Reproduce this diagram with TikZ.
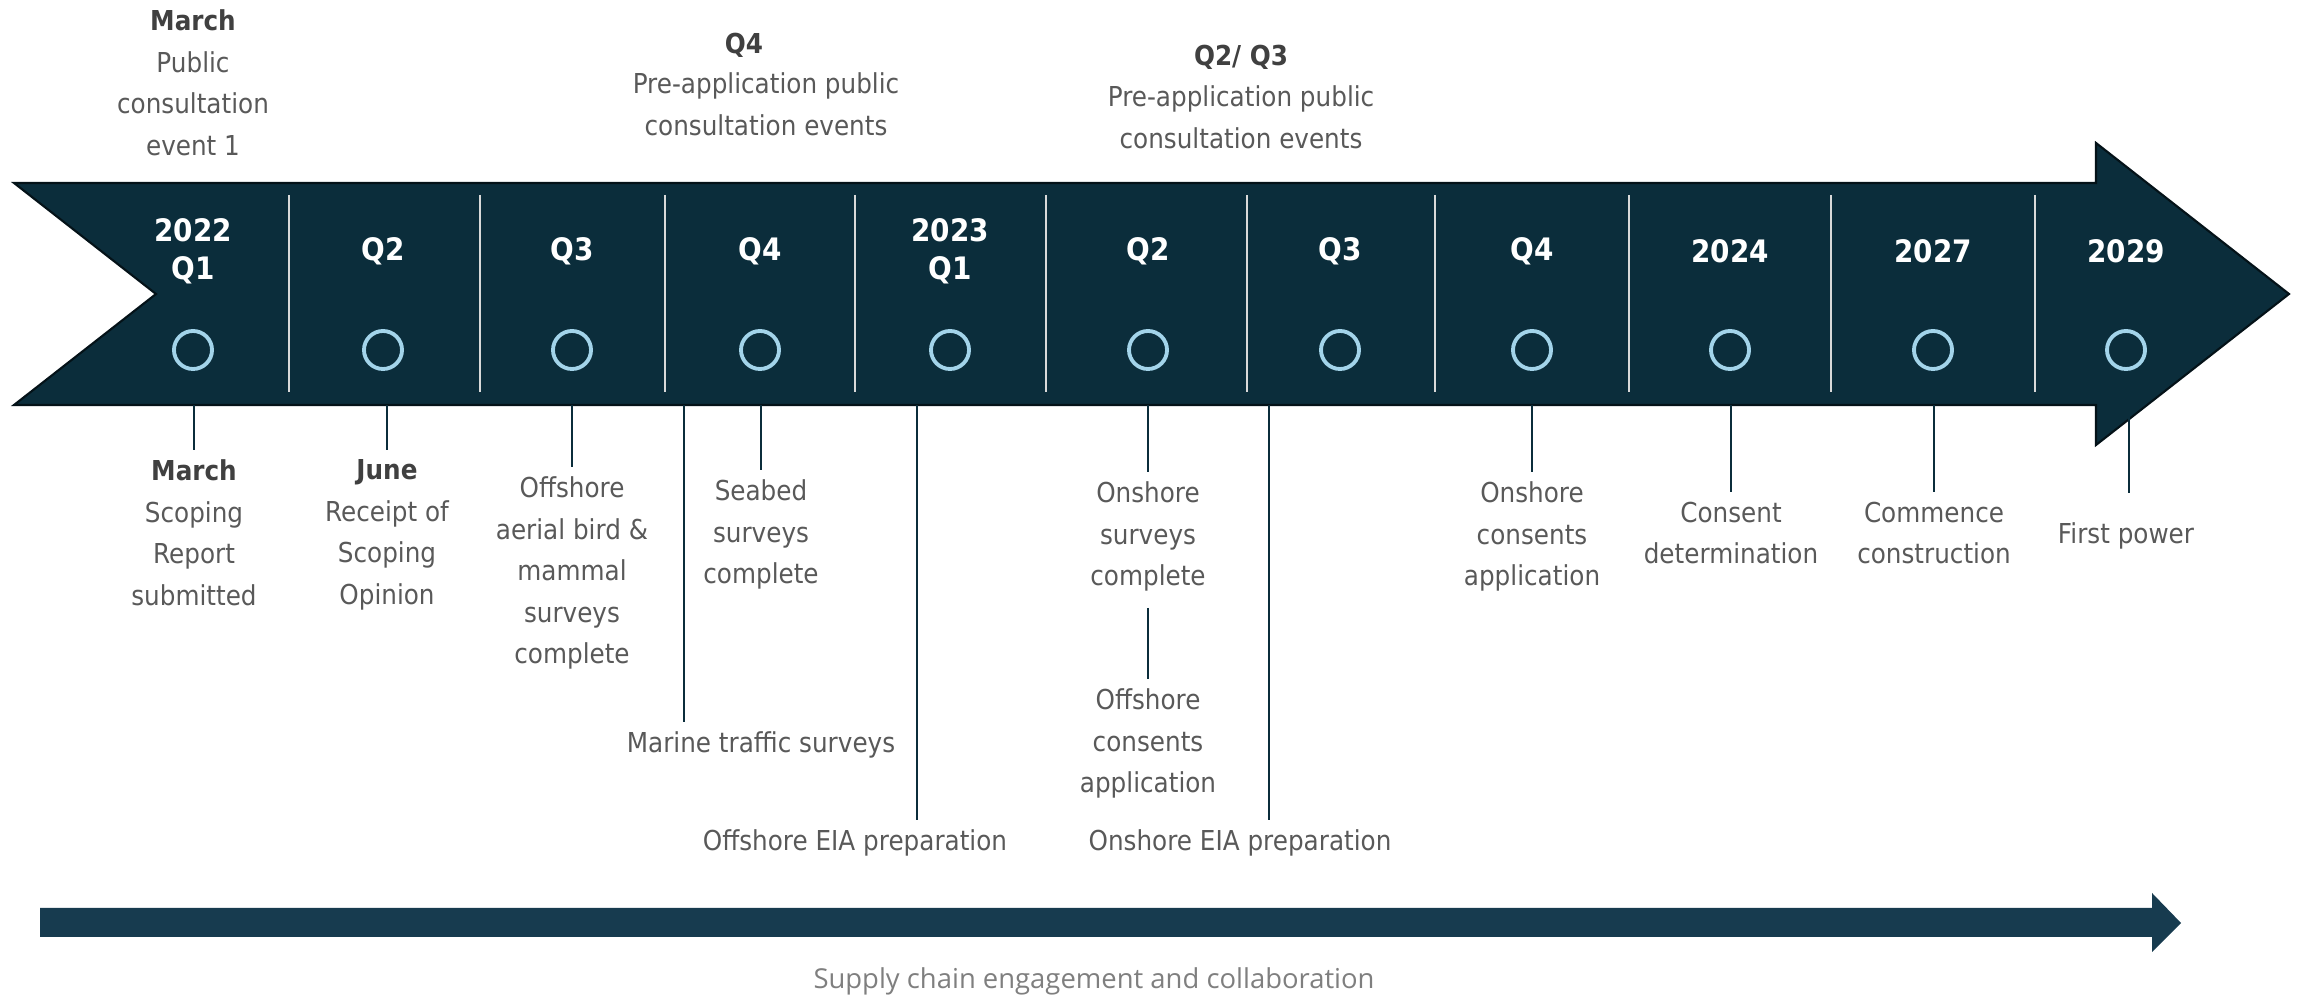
\documentclass[tikz,border=0pt]{standalone}
\usepackage{fontspec}
\setmainfont{DejaVu Sans}[FakeStretch=0.9]
\newfontfamily\supplyfont{Open Sans}
\usetikzlibrary{positioning}
\definecolor{navy}{HTML}{0B2D3B}
\definecolor{ringblue}{HTML}{A3D4EA}
\definecolor{textgray}{HTML}{595959}
\definecolor{headgray}{HTML}{404040}
\definecolor{supply}{HTML}{173B4F}
\definecolor{supplygray}{HTML}{7F7F7F}

\begin{document}
\begin{tikzpicture}[%
    x=0.01cm,
    y=-0.01cm,
    note/.style={%
      align=center,
      inner sep=0pt,
      text=textgray,
      font=\fontsize{7.8}{11.8}\selectfont
    },
    year/.style={%
      align=center,
      inner sep=0pt,
      text=white,
      font=\fontsize{8.8}{10.8}\selectfont\bfseries
    },
    ring/.style={%
      circle,
      minimum size=0.38cm,
      inner sep=0pt,
      draw=ringblue,
      line width=1.1pt
    },
    divider/.style={draw=black!15, line width=0.6pt},
    tick/.style={draw=navy, line width=0.7pt, shorten >=2.6pt}
  ]
    \useasboundingbox (0,0) rectangle (2300,998);

    % timeline arrow
    \fill[navy, draw=black!60!navy, line width=0.6pt]
      (14,183) -- (2096,183) -- (2096,143) -- (2289,294) -- (2096,445)
      -- (2096,405) -- (14,405) -- (156,294) -- cycle;
    \foreach \x in {289,480,665,855,1046,1247,1435,1629,1831,2035}
      \draw[divider] (\x,195) -- (\x,392);

    \node[year] (y1)  at (193,251)  {2022\\Q1};
    \node[year] (y2)  at (383,251)  {Q2};
    \node[year] (y3)  at (572,251)  {Q3};
    \node[year] (y4)  at (760,251)  {Q4};
    \node[year] (y5)  at (950,251)  {2023\\Q1};
    \node[year] (y6)  at (1148,251) {Q2};
    \node[year] (y7)  at (1340,251) {Q3};
    \node[year] (y8)  at (1532,251) {Q4};
    \node[year] (y9)  at (1730,251) {2024};
    \node[year] (y10) at (1933,251) {2027};
    \node[year] (y11) at (2126,251) {2029};

    \foreach \x [count=\i] in {193,383,572,760,950,1148,1340,1532,1730,1933,2126}
      \node[ring] (c\i) at (\x,350) {};

    % events above
    \node[note, anchor=north] (t1)  at (193,9)   {\textbf{\color{headgray}March}\\Public\\consultation\\event 1};
    \node[note, anchor=north] (t2h) at (744,32)  {\textbf{\color{headgray}Q4}};
    \node[note, anchor=north] (t2)  at (766,72)  {Pre-application public\\consultation events};
    \node[note, anchor=north] (t3)  at (1241,44) {\textbf{\color{headgray}Q2/ Q3}\\Pre-application public\\consultation events};

    % events below
    \coordinate (b1)  at (194,405);
    \coordinate (b2)  at (387,405);
    \coordinate (b3)  at (572,405);
    \coordinate (b4)  at (684,405);
    \coordinate (b5)  at (761,405);
    \coordinate (b6)  at (917,405);
    \coordinate (b7)  at (1148,405);
    \coordinate (b9)  at (1269,405);
    \coordinate (b10) at (1532,405);
    \coordinate (b11) at (1731,405);
    \coordinate (b12) at (1934,405);
    \coordinate (b13) at (2129,405);

    \node[note, anchor=north] (m1)  at (194,459)  {\textbf{\color{headgray}March}\\Scoping\\Report\\submitted};
    \node[note, anchor=north] (m2)  at (387,459)  {\textbf{\color{headgray}June}\\Receipt of\\Scoping\\Opinion};
    \node[note, anchor=north] (m3)  at (572,476)  {Offshore\\aerial bird \&\\mammal\\surveys\\complete};
    \node[note, anchor=north] (m4)  at (761,731)  {Marine traffic surveys};
    \node[note, anchor=north] (m5)  at (761,479)  {Seabed\\surveys\\complete};
    \node[note, anchor=north] (m6)  at (855,829)  {Offshore EIA preparation};
    \node[note, anchor=north] (m7)  at (1148,481) {Onshore\\surveys\\complete};
    \node[note, below=0.96cm of m7] (m8)          {Offshore\\consents\\application};
    \node[note, anchor=north] (m9)  at (1240,829) {Onshore EIA preparation};
    \node[note, anchor=north] (m10) at (1532,481) {Onshore\\consents\\application};
    \node[note, anchor=north] (m11) at (1731,501) {Consent\\determination};
    \node[note, anchor=north] (m12) at (1934,501) {Commence\\construction};
    \node[note, anchor=north] (m13) at (2126,522) {First power};

    \path[tick] (b1) edge (m1.north)
          (b2) edge (m2.north)
          (b3) edge (m3.north)
          (b4) edge (b4 |- m4.north)
          (b5) edge (m5.north)
          (b6) edge (b6 |- m6.north)
          (b7) edge (m7.north)
          (m7.south) edge [shorten <=4.5pt] (m8.north)
          (b9) edge (b9 |- m9.north)
          (b10) edge (m10.north)
          (b11) edge (m11.north)
          (b12) edge (m12.north)
          (b13) edge [shorten >=8.3pt] (b13 |- m13.north)
          ;

    % supply chain arrow
    \fill[supply] (40,908) -- (2152,908) -- (2152,893) -- (2181,923) -- (2152,952)
      -- (2152,937) -- (40,937) -- cycle;
    \node[text=supplygray, font=\supplyfont\fontsize{7.8}{9}\selectfont] (sc) at (1094,981)
      {Supply chain engagement and collaboration};
  \end{tikzpicture}
\end{document}
